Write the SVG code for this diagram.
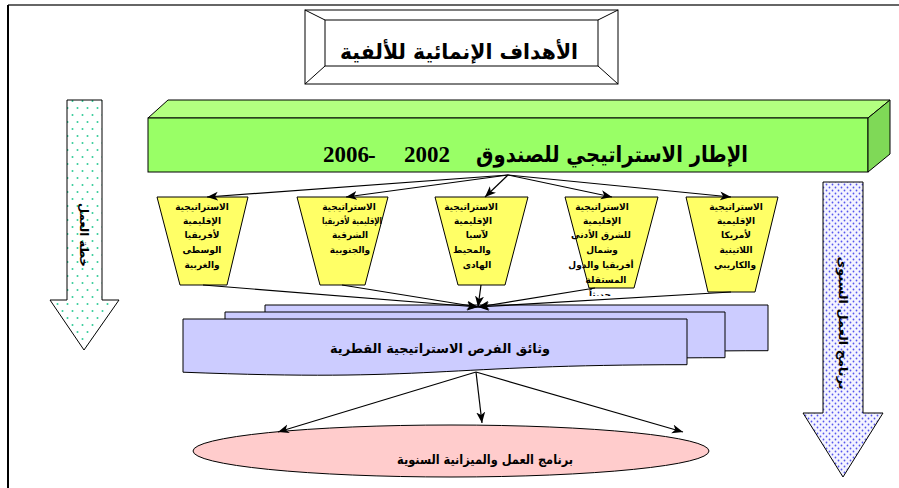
<svg xmlns="http://www.w3.org/2000/svg" width="899" height="488" viewBox="0 0 899 488">
<style>
.ar{font-family:"DejaVu Sans","Liberation Sans",sans-serif;font-weight:bold;fill:#000}
.tz{font-size:9px;text-anchor:middle}
.num{font-family:"Liberation Serif",serif;font-weight:bold;font-size:23px;fill:#000}
.ln{stroke:#000;stroke-width:1.2;fill:none}
.sh{stroke:#000;stroke-width:1}
</style>
<defs>
<marker id="ah" markerUnits="userSpaceOnUse" markerWidth="12" markerHeight="10" refX="11" refY="4.5" orient="auto">
<path d="M0,0 L11,4.5 L0,9 L3,4.5 z" fill="#000"/>
</marker>
<pattern id="teal" patternUnits="userSpaceOnUse" width="10" height="14">
<rect width="10" height="14" fill="#fff"/>
<circle cx="2.5" cy="3" r="1" fill="#33cc99"/>
<circle cx="7.5" cy="10" r="1" fill="#33cc99"/>
</pattern>
<pattern id="blue" patternUnits="userSpaceOnUse" width="6" height="6">
<rect width="6" height="6" fill="#f4f4ff"/>
<circle cx="1.5" cy="1.5" r="0.9" fill="#5555ee"/>
<circle cx="4.5" cy="4.5" r="0.9" fill="#5555ee"/>
</pattern>
<clipPath id="cl4"><rect x="560" y="180" width="100" height="116"/></clipPath>
</defs>

<rect width="899" height="488" fill="#fff"/>
<line x1="8" y1="5" x2="899" y2="5" stroke="#666" stroke-width="2"/>
<line x1="8" y1="5" x2="8" y2="488" stroke="#000" stroke-width="2"/>

<g id="title">
<rect x="305" y="10" width="313" height="74" fill="#fff" class="sh"/>
<rect x="325" y="20" width="273" height="46" fill="#fff" class="sh"/>
<path d="M305,10 L325,20 M618,10 L598,20 M305,84 L325,66 M618,84 L598,66" class="sh"/>
<text x="459" y="59" class="ar" font-size="21" text-anchor="middle" textLength="238" lengthAdjust="spacingAndGlyphs">الأهداف الإنمائية  للألفية</text>
</g>

<g id="framework">
<polygon points="148,118 168,100 890,100 868,118" fill="#b3ff80" class="sh"/>
<rect x="148" y="118" width="720" height="54" fill="#99ff66" class="sh"/>
<polygon points="868,118 890,100 890,154 868,172" fill="#7fd957" class="sh"/>
<text x="612" y="162" class="ar" font-size="22" text-anchor="middle" textLength="272" lengthAdjust="spacingAndGlyphs" font-family="'Liberation Serif','DejaVu Sans',serif">الإطار الاستراتيجي للصندوق</text>
<text x="323" y="162" class="num">2006</text>
<text x="368" y="163" class="num">-</text>
<text x="404" y="162" class="num">2002</text>
</g>

<g id="arrow-left">
<polygon points="67,100 102,100 102,300 119,300 84,350 50,300 67,300" fill="url(#teal)" class="sh"/>
<text class="ar" font-size="12" text-anchor="middle" transform="translate(80,235) rotate(90)" textLength="64" lengthAdjust="spacingAndGlyphs">خطة العمل</text>
</g>

<g id="arrow-right">
<polygon points="823,182 863,182 863,413 883,413 843,477 803,413 823,413" fill="url(#blue)" class="sh"/>
<text class="ar" font-size="12" text-anchor="middle" transform="translate(839,323) rotate(90)" textLength="133" lengthAdjust="spacingAndGlyphs">برنامج العمل السنوي</text>
</g>

<g id="strategy-1">
<polygon points="157,197 248,197 227,285 180,285" fill="#ffff66" class="sh"/>
<text class="ar tz" x="202" y="210">الاستراتيجية</text>
<text class="ar tz" x="202" y="224">الإقليمية</text>
<text class="ar tz" x="202" y="238">لأفريقيا</text>
<text class="ar tz" x="202" y="253">الوسطى</text>
<text class="ar tz" x="202" y="268">والغربية</text>
</g>
<g id="strategy-2">
<polygon points="297,197 388,197 365,285 320,285" fill="#ffff66" class="sh"/>
<text class="ar tz" x="349" y="210">الاستراتيجية</text>
<text class="ar tz" x="352" y="224" textLength="60" lengthAdjust="spacingAndGlyphs">الإقليمية لأفريقيا</text>
<text class="ar tz" x="350" y="238">الشرقية</text>
<text class="ar tz" x="350" y="253">والجنوبية</text>
</g>
<g id="strategy-3">
<polygon points="435,197 528,197 505,285 458,285" fill="#ffff66" class="sh"/>
<text class="ar tz" x="471" y="210">الاستراتيجية</text>
<text class="ar tz" x="473" y="224">الإقليمية</text>
<text class="ar tz" x="477" y="238">لآسيا</text>
<text class="ar tz" x="472" y="253">والمحيط</text>
<text class="ar tz" x="477" y="268">الهادى</text>
</g>
<g id="strategy-4">
<polygon points="565,197 658,197 634,288 589,288" fill="#ffff66" class="sh"/>
<g clip-path="url(#cl4)">
<text class="ar tz" x="602" y="210">الاستراتيجية</text>
<text class="ar tz" x="602" y="224">الإقليمية</text>
<text class="ar tz" x="601" y="238">للشرق الأدنى</text>
<text class="ar tz" x="602" y="253">وشمال</text>
<text class="ar tz" x="601" y="268">أفريقيا والدول</text>
<text class="ar tz" x="606" y="283">المستقلة</text>
<text class="ar tz" x="600" y="298">حديثاً</text>
</g>
</g>
<g id="strategy-5">
<polygon points="686,197 778,197 755,292 708,292" fill="#ffff66" class="sh"/>
<text class="ar tz" x="736" y="210">الاستراتيجية</text>
<text class="ar tz" x="736" y="224">الإقليمية</text>
<text class="ar tz" x="736" y="238">لأمريكا</text>
<text class="ar tz" x="736" y="253">اللاتينية</text>
<text class="ar tz" x="735" y="268">والكاريبي</text>
</g>

<g id="country-docs">
<path d="M265,305 L768,305 L768,350.7 C516.5,350.7 516.5,368 265,358 Z" fill="#ccccff" class="sh"/>
<path d="M225,312 L725,312 L725,357.7 C475,357.7 475,375 225,365 Z" fill="#ccccff" class="sh"/>
<path d="M183,319 L687,319 L687,364.7 C435,364.7 435,382 183,372.2 Z" fill="#ccccff" class="sh"/>
<text x="440" y="353" class="ar" font-size="13" text-anchor="middle" textLength="220" lengthAdjust="spacingAndGlyphs">وثائق الفرص الاستراتيجية القطرية</text>
</g>

<g id="work-programme">
<ellipse cx="451" cy="451" rx="258" ry="26" fill="#ffcccc" class="sh"/>
<text x="485" y="464" class="ar" font-size="13" text-anchor="middle" textLength="176" lengthAdjust="spacingAndGlyphs">برنامج العمل والميزانية السنوية</text>
</g>

<g id="connectors">
<line x1="508" y1="175" x2="207" y2="197" class="ln" marker-end="url(#ah)"/>
<line x1="508" y1="175" x2="346" y2="197" class="ln" marker-end="url(#ah)"/>
<line x1="508" y1="175" x2="485" y2="197" class="ln" marker-end="url(#ah)"/>
<line x1="508" y1="175" x2="612" y2="197" class="ln" marker-end="url(#ah)"/>
<line x1="508" y1="175" x2="731" y2="197" class="ln" marker-end="url(#ah)"/>
<line x1="203" y1="285" x2="478" y2="307" class="ln" marker-end="url(#ah)"/>
<line x1="342" y1="285" x2="478" y2="307" class="ln" marker-end="url(#ah)"/>
<line x1="481" y1="285" x2="478" y2="307" class="ln" marker-end="url(#ah)"/>
<line x1="595" y1="288" x2="478" y2="307" class="ln" marker-end="url(#ah)"/>
<line x1="731" y1="292" x2="478" y2="307" class="ln" marker-end="url(#ah)"/>
<line x1="476" y1="372" x2="278" y2="432" class="ln" marker-end="url(#ah)"/>
<line x1="476" y1="372" x2="482" y2="423" class="ln" marker-end="url(#ah)"/>
<line x1="476" y1="372" x2="683" y2="432" class="ln" marker-end="url(#ah)"/>
</g>
</svg>
